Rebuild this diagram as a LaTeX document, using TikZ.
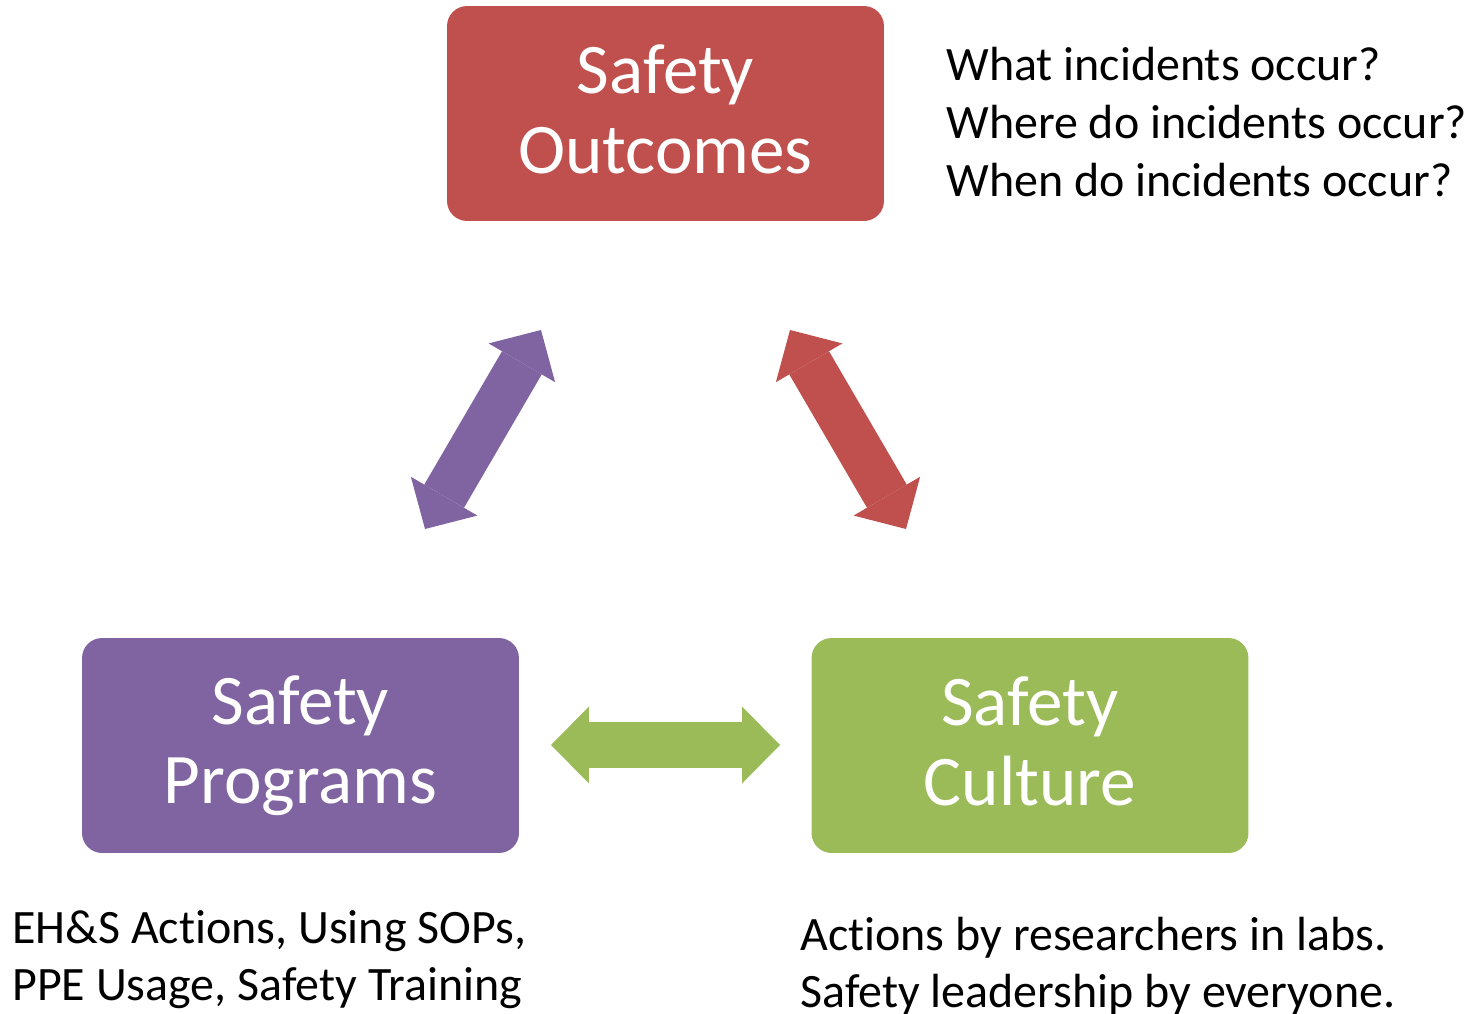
\documentclass[tikz,border=0pt]{standalone}
\usepackage{fontspec}
\setmainfont[Ligatures=NoCommon]{Carlito}
\usetikzlibrary{arrows.meta}

\definecolor{outred}{HTML}{C0504D}
\definecolor{progpurple}{HTML}{8064A2}
\definecolor{culgreen}{HTML}{9BBB59}

% struts that put both box lines where the slide has them
\newcommand{\topstrut}{\rule{0pt}{28pt}}
\newcommand{\botstrut}{\rule[-5pt]{0pt}{5pt}}

\begin{document}
\begin{tikzpicture}[x=0.02cm,y=-0.02cm,
	box/.style={rectangle,rounded corners=0.4cm,minimum width=8.74cm,minimum height=4.3cm,
		text=white,align=center,font=\fontsize{40.5}{45.5}\selectfont},
	note/.style={anchor=base west,align=left,inner sep=0pt},
	dblarrow/.style={line width=0.92cm,
		{Triangle[length=0.76cm,width=1.54cm,line width=0pt]}-{Triangle[length=0.76cm,width=1.54cm,line width=0pt]}}]
	
		\useasboundingbox (0,0) rectangle (1482,1014);
	
		\node[box,fill=outred] (outcomes) at (665.5,113.5) {\topstrut Safety\\Outcomes\botstrut};
		\node[box,fill=progpurple] (programs) at (300.5,745.5) {\topstrut Safety\\Programs\botstrut};
		\node[box,fill=culgreen] (culture) at (1030,745.5) {\topstrut Safety\\Culture\botstrut};
		
		% anchored at the baseline of the last line
		\node[note,font=\fontsize{27.3}{33}\selectfont] (questions) at (946,196)
			{What incidents occur?\\Where do incidents occur?\\When do incidents occur?};
		\node[note,font=\fontsize{27.3}{32.3}\selectfont] (actions) at (12,1000)
			{EH\&S Actions, Using SOPs,\\PPE Usage, Safety Training};
		\node[note,font=\fontsize{27.3}{32.3}\selectfont] (leaders) at (800,1007)
			{Actions by researchers in labs.\\Safety leadership by everyone.};
		
		\coordinate (pa) at (425,529);
		\coordinate (pb) at (541,330);
		\coordinate (ra) at (790,330);
		\coordinate (rb) at (906,529);
		\coordinate (ga) at (551,745);
		\coordinate (gb) at (780,745);
		
		\draw[dblarrow,progpurple] (pa) -- (pb);
		\draw[dblarrow,outred] (ra) -- (rb);
		\draw[dblarrow,culgreen] (ga) -- (gb);
	\end{tikzpicture}
\end{document}
